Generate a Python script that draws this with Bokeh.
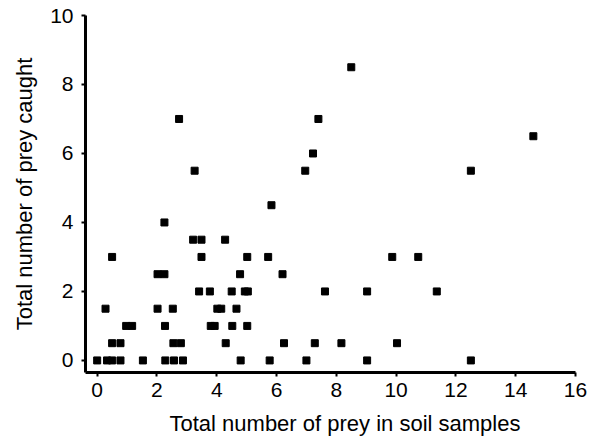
from bokeh.plotting import figure
from bokeh.models import FixedTicker, Range1d, Title
from bokeh.embed import file_html
from bokeh.resources import INLINE

# Data (x: prey in soil samples, y: prey caught)
soil_prey = [
    0.0, 0.33, 0.5, 0.78, 1.53, 2.28, 2.57, 2.87, 4.8, 5.77, 7.0, 9.03, 12.5,
    0.5, 0.78, 2.55, 2.8, 4.3, 6.25, 7.28, 8.17, 10.03,
    0.97, 1.17, 2.27, 3.8, 3.93, 4.52, 5.02,
    0.28, 2.02, 2.53, 4.02, 4.15, 4.66,
    3.41, 3.77, 4.5, 4.94, 5.04, 7.62, 9.03, 11.36,
    2.02, 2.25, 4.78, 6.2,
    0.5, 3.49, 5.02, 5.72, 9.87, 10.74,
    3.21, 3.49, 4.28,
    2.25,
    5.83,
    3.26, 6.96, 12.5,
    7.22,
    14.59,
    2.74, 7.4,
    8.5,
]
prey_caught = [
    0, 0, 0, 0, 0, 0, 0, 0, 0, 0, 0, 0, 0,
    0.5, 0.5, 0.5, 0.5, 0.5, 0.5, 0.5, 0.5, 0.5,
    1, 1, 1, 1, 1, 1, 1,
    1.5, 1.5, 1.5, 1.5, 1.5, 1.5,
    2, 2, 2, 2, 2, 2, 2, 2,
    2.5, 2.5, 2.5, 2.5,
    3, 3, 3, 3, 3, 3,
    3.5, 3.5, 3.5,
    4,
    4.5,
    5.5, 5.5, 5.5,
    6,
    6.5,
    7, 7,
    8.5,
]
x_ticks = [0, 2, 4, 6, 8, 10, 12, 14, 16]
y_ticks = [0, 2, 4, 6, 8, 10]
x_label = "Total number of prey in soil samples"
y_label = "Total number of prey caught"

p = figure(width=589, height=446, output_backend="svg", toolbar_location=None,
           x_range=Range1d(-0.39, 16), y_range=Range1d(-0.35, 10),
           min_border_left=85, min_border_right=14, min_border_top=15,
           min_border_bottom=74)

p.scatter(soil_prey, prey_caught, marker="square", size=7,
          fill_color="black", line_color="black")

p.grid.visible = False
p.outline_line_color = None
p.background_fill_color = "white"

for ax in (p.xaxis[0], p.yaxis[0]):
    ax.axis_line_width = 3
    ax.axis_line_color = "black"
    ax.major_tick_line_width = 2
    ax.major_tick_line_color = "black"
    ax.major_tick_in = 0
    ax.major_tick_out = 4
    ax.minor_tick_line_color = None
    ax.major_label_text_font = "Liberation Sans"
    ax.major_label_text_font_style = "normal"
    ax.major_label_text_font_size = "21px"
    ax.major_label_text_color = "black"
    ax.axis_label_text_font = "Liberation Sans"
    ax.axis_label_text_font_style = "normal"
    ax.axis_label_text_font_size = "22px"
    ax.axis_label_text_color = "black"

p.xaxis.ticker = FixedTicker(ticks=x_ticks)
p.yaxis.ticker = FixedTicker(ticks=y_ticks)
p.yaxis.axis_label = y_label
p.xaxis.major_label_standoff = 6
p.yaxis.major_label_standoff = 8
p.yaxis.axis_label_standoff = 10

# x-axis title, placed where the reference puts it (slightly right of frame centre)
p.add_layout(Title(text=x_label, align="left", offset=84, standoff=19,
                   text_font="Liberation Sans", text_font_size="22px",
                   text_font_style="normal", text_color="black"), "below")

open("out.html", "w").write(file_html(p, INLINE))
